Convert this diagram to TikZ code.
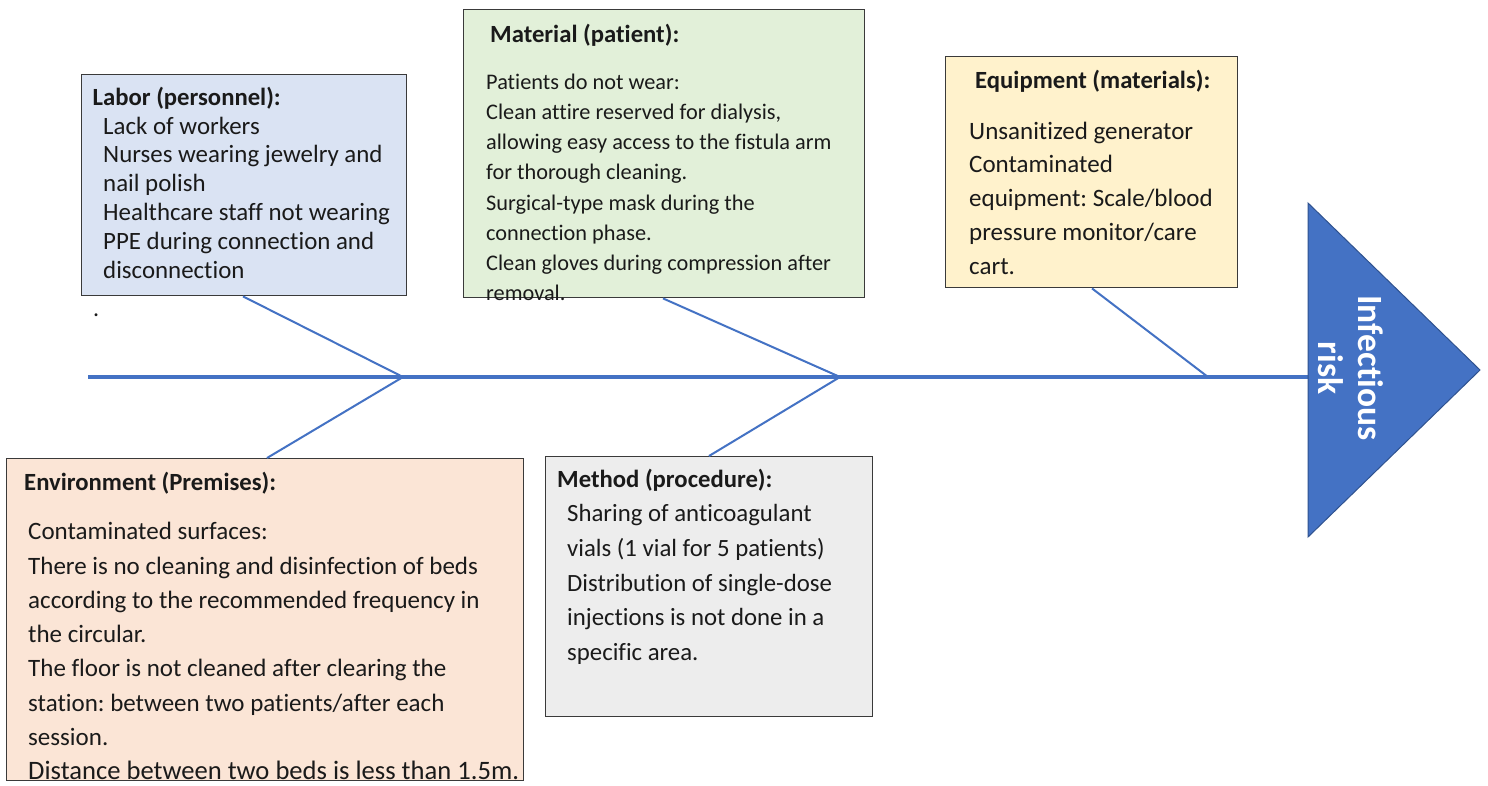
\documentclass[tikz,border=0pt]{standalone}
\usepackage{fontspec}
\setmainfont[Ligatures={NoCommon}]{Carlito}
\usetikzlibrary{calc}
\definecolor{fishblue}{HTML}{4472C4}
\definecolor{tridark}{HTML}{2F528F}
\definecolor{boxline}{HTML}{3A3A3A}
\definecolor{txt}{HTML}{1A1A1A}
\definecolor{labfill}{HTML}{DAE3F3}
\definecolor{matfill}{HTML}{E2F0D9}
\definecolor{eqfill}{HTML}{FFF2CC}
\definecolor{envfill}{HTML}{FBE5D6}
\definecolor{methfill}{HTML}{EDEDED}
\tikzset{
  cbox/.style={draw=boxline, line width=1.4pt, anchor=north west, inner sep=0pt},
  ttl/.style={anchor=base west, inner sep=0pt, text=txt, font=\bfseries\fontsize{24.7}{29}\selectfont},
  body/.style={anchor=north west, inner sep=0pt, align=left, text=txt},
  bone/.style={draw=fishblue, line width=2pt},
  spine/.style={draw=fishblue, line width=3.5pt},
}
\begin{document}
\frenchspacing
\begin{tikzpicture}[x=1pt,y=-1pt]
\useasboundingbox (0,0) rectangle (1488,785);
\fill[white] (0,0) rectangle (1488,785);

% boxes
\node[cbox, fill=labfill, minimum width=325pt, minimum height=221pt] (labor) at (81,74) {};
\node[cbox, fill=matfill, minimum width=401pt, minimum height=288pt] (mat) at (463,9) {};
\node[cbox, fill=eqfill, minimum width=292pt, minimum height=231pt] (equip) at (945,56) {};
\node[cbox, fill=envfill, minimum width=517pt, minimum height=322pt] (env) at (6,458) {};
\node[cbox, fill=methfill, minimum width=327pt, minimum height=260pt] (meth) at (545,456) {};

% fishbone
\coordinate (sp0) at (88,377);
\coordinate (tribase) at (1308,377);
\coordinate (j1) at (403,377);
\coordinate (j2) at (840,377);
\coordinate (j3) at (1208,377);
\draw[spine] (sp0) -- (tribase);
\draw[bone] ($(labor.south west)+(162,0)$) -- (j1);
\draw[bone] ($(env.north west)+(261,0)$) -- (j1);
\draw[bone] ($(mat.south west)+(200,0)$) -- (j2);
\draw[bone] ($(meth.north west)+(164,0)$) -- (j2);
\draw[bone] ($(equip.south west)+(147,0)$) -- (j3);

% head
\coordinate (tA) at (1308,203);
\coordinate (tB) at (1480,370);
\coordinate (tC) at (1308,537);
\draw[fill=fishblue, draw=tridark, line width=1pt] (tA) -- (tB) -- (tC) -- cycle;
\node[rotate=-90, align=center, text=white, inner sep=0pt,
  font=\bfseries\fontsize{35.5}{40}\selectfont] (head) at (1351,368) {Infectious\\risk};

% Labor
\node[ttl] (labort) at (92.5,105.5) {Labor (personnel):};
\node[body, font=\fontsize{24.9}{28.8}\selectfont] (laborb) at (103,113.8)
 {\strut Lack of workers\\Nurses wearing jewelry and\\nail polish\\Healthcare staff not wearing\\PPE during connection and\\disconnection};
\node[anchor=base west, inner sep=0pt, text=txt, font=\fontsize{24}{29}\selectfont] (dot) at (93,316) {.};

% Material
\node[ttl] (matt) at (490,42) {Material (patient):};
\node[body, font=\fontsize{22.3}{30.2}\selectfont] (matb) at (486,67.9)
 {\strut Patients do not wear:\\Clean attire reserved for dialysis,\\allowing easy access to the fistula arm\\for thorough cleaning.\\Surgical-type mask during the\\connection phase.\\Clean gloves during compression after\\removal.};

% Equipment
\node[ttl] (equipt) at (975,88.5) {Equipment (materials):};
\node[body, font=\fontsize{25}{33.8}\selectfont] (equipb) at (969,115.3)
 {\strut Unsanitized generator\\Contaminated\\equipment: Scale/blood\\pressure monitor/care\\cart.};

% Environment
\node[ttl] (envt) at (24,490.5) {Environment (Premises):};
\node[body, font=\fontsize{25}{34.3}\selectfont] (envb) at (28,515.5)
 {\strut Contaminated surfaces:\\There is no cleaning and disinfection of beds\\according to the recommended frequency in\\the circular.\\The floor is not cleaned after clearing the\\station: between two patients/after each\\session.\\{\fontsize{26.6}{34.3}\selectfont Distance between two beds is less than 1.5m.}};

% Method
\node[ttl] (metht) at (557,487) {Method (procedure):};
\node[body, font=\fontsize{24.8}{34.6}\selectfont] (methb) at (567,497.5)
 {\strut Sharing of anticoagulant\\vials (1 vial for 5 patients)\\Distribution of single-dose\\injections is not done in a\\specific area.};
\end{tikzpicture}
\end{document}
